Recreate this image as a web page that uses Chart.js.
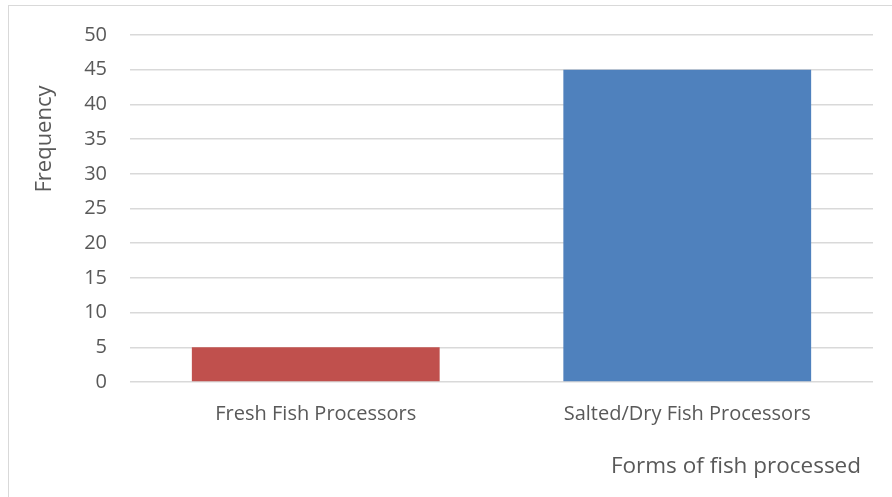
<!DOCTYPE html>
<html>
<head>
<meta charset="utf-8">
<script src="https://cdn.jsdelivr.net/npm/chart.js@4/dist/chart.umd.min.js"></script>
<style>
  html, body { margin: 0; padding: 0; background: #fff; }
  #wrap { position: relative; width: 892px; height: 497px; overflow: hidden; }
  #frame { position: absolute; left: 8px; top: 5px; width: 900px; height: 520px; border: 1.5px solid #d9d9d9; }
  canvas { position: absolute; left: 0; top: 0; }
</style>
</head>
<body>
<div id="wrap">
  <div id="frame"></div>
  <canvas id="myChart" width="892" height="497"></canvas>
</div>
<script>
const categories = ["Fresh Fish Processors", "Salted/Dry Fish Processors"];
const frequency = [5, 45];
const barColors = ["#C0504D", "#4F81BD"];
const yTitle = "Frequency";
const xTitle = "Forms of fish processed";

const textColor = "#595959";
const fontFamily = "'Open Sans', 'Noto Sans', sans-serif";

// draw axis titles where the original puts them
const titlePlugin = {
  id: "axisTitles",
  afterDraw(chart) {
    const ctx = chart.ctx;
    ctx.save();
    ctx.fillStyle = textColor;
    ctx.font = "22px " + fontFamily;
    ctx.textBaseline = "middle";
    ctx.textAlign = "center";
    ctx.translate(45, 139);
    ctx.rotate(-Math.PI / 2);
    ctx.fillText(yTitle, 0, 0);
    ctx.restore();
    ctx.save();
    ctx.fillStyle = textColor;
    ctx.font = "22.5px " + fontFamily;
    ctx.textBaseline = "middle";
    ctx.textAlign = "right";
    ctx.fillText(xTitle, 861, 467);
    ctx.restore();
  }
};

new Chart("myChart", {
  type: "bar",
  data: {
    labels: categories,
    datasets: [{
      data: frequency,
      backgroundColor: barColors,
      categoryPercentage: 1,
      barPercentage: 0.667
    }]
  },
  options: {
    responsive: false,
    animation: false,
    layout: { padding: { top: 35, right: 19, left: 0, bottom: 0 } },
    plugins: { legend: { display: false }, tooltip: { enabled: false } },
    scales: {
      x: {
        afterFit(scale) { scale.height = 115; },
        grid: { display: false, drawTicks: false },
        border: { display: false },
        ticks: { color: textColor, padding: 20, font: { family: fontFamily, size: 20 } }
      },
      y: {
        min: 0,
        max: 50,
        afterFit(scale) { scale.width = 130; },
        grid: { color: "#d9d9d9", lineWidth: 1.5, drawTicks: false },
        border: { display: false },
        ticks: { stepSize: 5, color: textColor, padding: 23, font: { family: fontFamily, size: 20 } }
      }
    }
  },
  plugins: [titlePlugin]
});
</script>
</body>
</html>
